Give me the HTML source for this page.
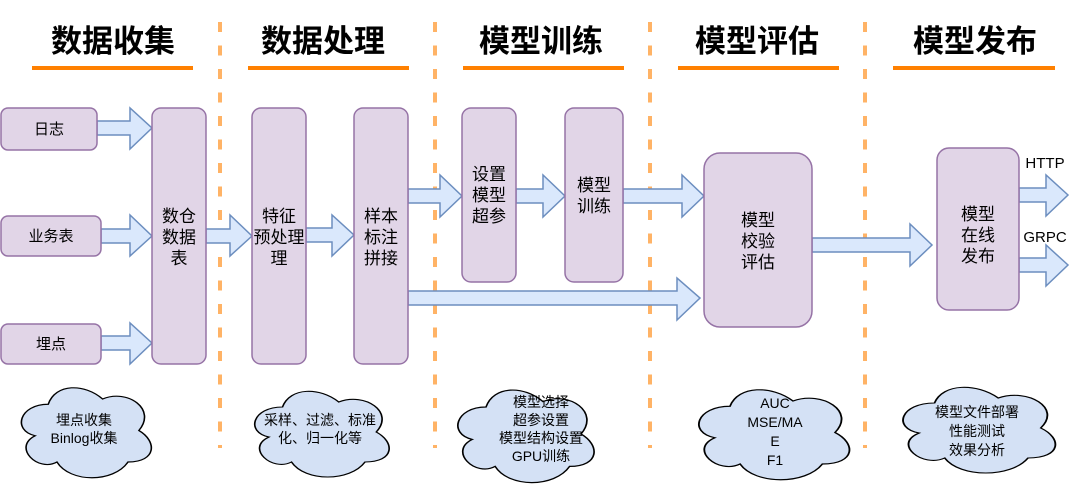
<!DOCTYPE html>
<html><head><meta charset="utf-8"><style>
html,body{margin:0;padding:0;background:#fff;}
svg{display:block;}
text{font-family:"Liberation Sans","Noto Sans CJK SC",sans-serif;}
</style></head><body>
<svg width="1080" height="486" viewBox="0 0 1080 486" xmlns="http://www.w3.org/2000/svg">
<defs>
<path id="cloud" d="M0.25 0.25 C0.05 0.25 0 0.5 0.16 0.55 C0 0.66 0.18 0.9 0.31 0.8 C0.4 1 0.7 1 0.8 0.8 C1 0.8 1 0.6 0.875 0.5 C1 0.3 0.8 0.1 0.625 0.2 C0.5 0.05 0.3 0.05 0.25 0.25 Z"/>
</defs>
<!-- dashed separators -->
<g stroke="#ffb366" stroke-width="4" stroke-dasharray="10 13.5">
<line x1="220" y1="22" x2="220" y2="448"/>
<line x1="435" y1="22" x2="435" y2="448"/>
<line x1="650" y1="22" x2="650" y2="448"/>
<line x1="865" y1="22" x2="865" y2="448"/>
</g>
<!-- titles -->
<g font-size="31" font-weight="bold" text-anchor="middle" fill="#000">
<text x="113" y="52">数据收集</text>
<text x="323" y="52">数据处理</text>
<text x="541" y="52">模型训练</text>
<text x="757" y="52">模型评估</text>
<text x="975" y="52">模型发布</text>
</g>
<g fill="#ff8000">
<rect x="32" y="66" width="161" height="4"/>
<rect x="248" y="66" width="161" height="4"/>
<rect x="463" y="66" width="161" height="4"/>
<rect x="678" y="66" width="161" height="4"/>
<rect x="893" y="66" width="162" height="4"/>
</g>
<!-- arrows -->
<g fill="#dae8fc" stroke="#6c8ebf" stroke-width="1.5">
<polygon points="97,121 130,121 130,108 152,128 130,149 130,135 97,135"/>
<polygon points="101,229 130,229 130,215 152,236 130,256 130,243 101,243"/>
<polygon points="101,336 130,336 130,323 152,343 130,364 130,350 101,350"/>
<polygon points="206,229 230,229 230,215 252,236 230,256 230,243 206,243"/>
<polygon points="306,228 332,228 332,215 354,235 332,256 332,242 306,242"/>
<polygon points="408,189 440,189 440,175 462,196 440,217 440,203 408,203"/>
<polygon points="516,189 543,189 543,175 565,196 543,217 543,203 516,203"/>
<polygon points="623,189 682,189 682,175 704,196 682,217 682,203 623,203"/>
<polygon points="408,291 677,291 677,278 700,298 677,320 677,305 408,305"/>
<polygon points="812,238 910,238 910,224 932,245 910,266 910,252 812,252"/>
<polygon points="1019,188 1046,188 1046,175 1068,195 1046,216 1046,202 1019,202"/>
<polygon points="1019,258 1046,258 1046,245 1068,265 1046,286 1046,272 1019,272"/>
</g>
<!-- boxes -->
<g fill="#e1d5e7" stroke="#9673a6" stroke-width="1.5">
<rect x="1" y="108" width="96" height="42" rx="7"/>
<rect x="1" y="216" width="100" height="40" rx="7"/>
<rect x="1" y="324" width="100" height="40" rx="7"/>
<rect x="152" y="108" width="54" height="256" rx="9"/>
<rect x="252" y="108" width="54" height="256" rx="9"/>
<rect x="354" y="108" width="54" height="256" rx="9"/>
<rect x="462" y="108" width="54" height="174" rx="9"/>
<rect x="565" y="108" width="58" height="174" rx="9"/>
<rect x="704" y="153" width="108" height="174" rx="16"/>
<rect x="937" y="148" width="82" height="162" rx="12"/>
</g>
<g font-size="15" text-anchor="middle" fill="#000">
<text x="49" y="134">日志</text>
<text x="51" y="241">业务表</text>
<text x="51" y="349">埋点</text>
</g>
<g font-size="17" text-anchor="middle" fill="#000">
<text x="179" y="222">数仓</text><text x="179" y="243">数据</text><text x="179" y="264">表</text>
<text x="279" y="222">特征</text><text x="279" y="243">预处理</text><text x="279" y="264">理</text>
<text x="381" y="222">样本</text><text x="381" y="243">标注</text><text x="381" y="264">拼接</text>
<text x="489" y="180">设置</text><text x="489" y="201">模型</text><text x="489" y="222">超参</text>
<text x="594" y="191">模型</text><text x="594" y="212">训练</text>
<text x="758" y="226">模型</text><text x="758" y="247">校验</text><text x="758" y="268">评估</text>
<text x="978" y="220">模型</text><text x="978" y="241">在线</text><text x="978" y="262">发布</text>
</g>
<g font-size="15" text-anchor="middle" fill="#000">
<text x="1045" y="168">HTTP</text>
<text x="1045" y="242">GRPC</text>
</g>
<!-- clouds -->
<g fill="#d4e1f5" stroke="#000" stroke-width="1.5">
<use href="#cloud" transform="translate(12,378) scale(145,105)" style="vector-effect:non-scaling-stroke" stroke-width="0.011"/>
<use href="#cloud" transform="translate(245,382) scale(150,100)" stroke-width="0.011"/>
<use href="#cloud" transform="translate(448,380) scale(152,108)" stroke-width="0.011"/>
<use href="#cloud" transform="translate(688,380) scale(168,105)" stroke-width="0.011"/>
<use href="#cloud" transform="translate(892,378) scale(170,100)" stroke-width="0.011"/>
</g>
<g font-size="14" text-anchor="middle" fill="#000">
<text x="84" y="425">埋点收集</text><text x="84" y="443">Binlog收集</text>
<text x="320" y="425">采样、过滤、标准</text><text x="320" y="443">化、归一化等</text>
<text x="541" y="407">模型选择</text><text x="541" y="425">超参设置</text><text x="541" y="443">模型结构设置</text><text x="541" y="461">GPU训练</text>
<text x="775" y="408">AUC</text><text x="775" y="427">MSE/MA</text><text x="775" y="446">E</text><text x="775" y="465">F1</text>
<text x="977" y="417">模型文件部署</text><text x="977" y="436">性能测试</text><text x="977" y="455">效果分析</text>
</g>
</svg>
</body></html>
